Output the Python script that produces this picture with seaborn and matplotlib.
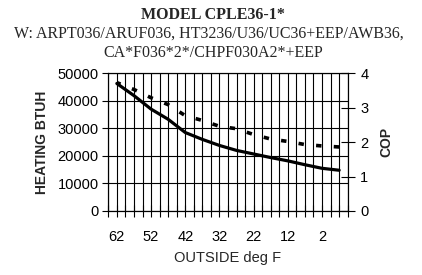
import numpy as np
import pandas as pd
import matplotlib
matplotlib.use('Agg')
import matplotlib.pyplot as plt
import seaborn as sns

# outdoor temps (deg F) and read-off values
temps = [62, 57, 52, 47, 42, 37, 32, 27, 22, 17, 12, 7, 2, -3]
heating_btuh = [46300, 41900, 37000, 33300, 28500, 26000, 23800,
                22000, 20700, 19400, 18200, 16800, 15500, 14800]
cop = [3.73, 3.53, 3.29, 3.09, 2.77, 2.63, 2.46,
       2.39, 2.22, 2.09, 2.02, 1.93, 1.89, 1.86]
x_labels = [62, 52, 42, 32, 22, 12, 2]

title_lines = ['MODEL CPLE36-1*',
               'W: ARPT036/ARUF036, HT3236/U36/UC36+EEP/AWB36,',
               'CA*F036*2*/CHPF030A2*+EEP']

df = pd.DataFrame({'temp': temps, 'btuh': heating_btuh, 'cop': cop})

sns.set_style('white')
plt.rcParams['font.family'] = ['Liberation Sans', 'DejaVu Sans']

fig = plt.figure(figsize=(4.22, 2.75), dpi=100)
ax = fig.add_axes([108.3/422, 1-211/275, (347.7-108.3)/422, (211-73.3)/275])

sns.lineplot(data=df, x='temp', y='btuh', ax=ax, color='black', lw=2.3)
ax.set_xlim(64.5, -5.5)
ax.set_ylim(0, 50000)
ax.set_yticks(np.arange(0, 50001, 10000))
ax.set_xticks(x_labels)
ax.set_xticks(np.arange(-5.5, 64.6, 2.5), minor=True)
ax.grid(True, which='both', axis='x', color='black', lw=0.8)
ax.grid(True, which='major', axis='y', color='black', lw=0.8)
ax.tick_params(axis='y', which='major', direction='out', length=4, width=0.8,
               left=True, pad=3, labelsize=10.5, colors='black')
ax.tick_params(axis='x', which='both', direction='inout', length=9, width=0.8,
               bottom=True, labelsize=10.5, pad=9, colors='black')
for s in ax.spines.values():
    s.set_color('black')
    s.set_linewidth(0.8)
ax.set_xlabel('OUTSIDE deg F', fontsize=10.5, labelpad=5)
ax.set_ylabel('HEATING BTUH', fontsize=10, fontweight='bold', labelpad=6)

ax2 = ax.twinx()
sns.lineplot(data=df, x='temp', y='cop', ax=ax2, color='black', lw=2.6,
             linestyle=(0, (1.5, 3.4)))
ax2.set_ylim(0, 4)
ax2.set_yticks([0, 1, 2, 3, 4])
ax2.grid(False)
ax2.tick_params(axis='y', direction='inout', length=10, width=0.8, right=True,
                pad=4, labelsize=10.5, colors='black')
ax2.set_ylabel('COP', fontsize=10, fontweight='bold', labelpad=8)
ax2.set_xlim(64.5, -5.5)
for s in ax2.spines.values():
    s.set_color('black')
    s.set_linewidth(0.8)

fig.text(0.505, 1-15/275, title_lines[0], ha='center', va='center',
         family='Liberation Serif', fontweight='bold', fontsize=11.5)
fig.text(0.495, 1-34/275, title_lines[1], ha='center', va='center',
         family='Liberation Serif', fontsize=11.5)
fig.text(0.505, 1-53/275, title_lines[2], ha='center', va='center',
         family='Liberation Serif', fontsize=11.5)

fig.savefig('out.png', dpi=100)
